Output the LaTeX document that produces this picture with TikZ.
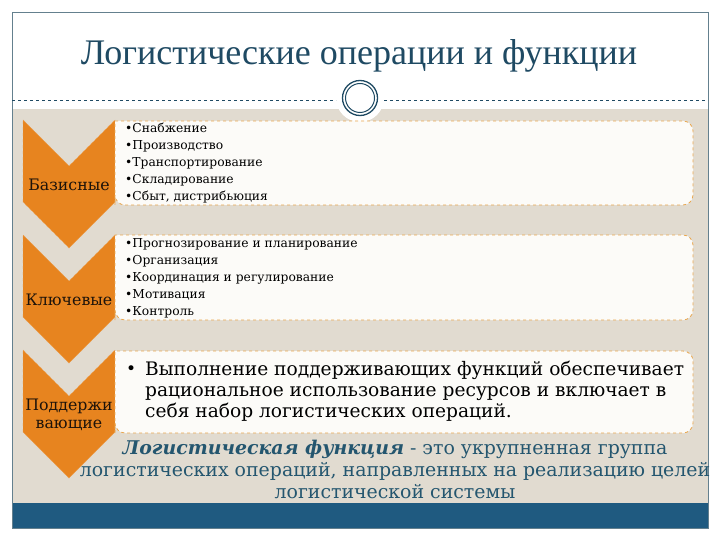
\documentclass[tikz,border=0pt]{standalone}
\usepackage{fontspec}
\setmainfont{DejaVu Serif}
\newfontfamily\titlefont{Liberation Serif}

\definecolor{beige}{RGB}{225,219,208}
\definecolor{chevorange}{RGB}{231,132,31}
\definecolor{boxfill}{RGB}{252,251,248}
\definecolor{boxline}{RGB}{233,166,78}
\definecolor{titleblue}{RGB}{31,74,99}
\definecolor{barblue}{RGB}{31,90,128}
\definecolor{framegray}{RGB}{100,128,142}
\definecolor{deftext}{RGB}{36,86,111}

\begin{document}
\begin{tikzpicture}[x=1pt,y=-1pt,
  chevron/.style={fill=chevorange,draw=chevorange!80!white,dashed,line width=0.4pt},
  textbox/.style={fill=boxfill,draw=boxline,dashed,line width=0.8pt},
  label/.style={text=black!85!brown,font=\fontsize{15.8}{18.5}\selectfont,align=center,inner sep=0pt},
  items/.style={anchor=west,align=left,font=\fontsize{12.3}{17}\selectfont,inner sep=0pt}]

\useasboundingbox (0,0) rectangle (720,540);

% Fond et cadre
\fill[beige] (12,109) rectangle (708,503);
\fill[barblue] (12,503) rectangle (708,528);
\fill[white] (360,98) circle (24);
\draw[framegray,line width=0.8pt] (12,12) rectangle (708,528);

% Titre
\node (title) at (359,56) {\titlefont\fontsize{36}{40}\selectfont\color{titleblue}Логистические операции и функции};

% Ligne pointillee et anneau
\coordinate (ringL) at (336,100);
\coordinate (ringR) at (384,100);
\draw[titleblue,dashed,line width=0.6pt] (12,100) -- (ringL);
\draw[titleblue,dashed,line width=0.6pt] (ringR) -- (708,100);
\draw[titleblue,line width=1.3pt] (360,98) circle (17.5);
\draw[titleblue,line width=1pt] (360,98) circle (14.5);

% Chevrons
\foreach \t in {120,235,350}
  \draw[chevron] (23,\t) -- (69,\t+46) -- (115,\t) -- (115,\t+82) -- (69,\t+128) -- (23,\t+82) -- cycle;

% Cadres de texte
\foreach \t/\b in {121/205,235/320,351/433}
  \draw[textbox] (115,\b) -- (115,\t) [rounded corners=10pt] -- (693,\t) -- (693,\b) -- (115,\b) [sharp corners] -- cycle;

\node[label] (basic) at (69,185) {Базисные};
\node[label] (key) at (69,300) {Ключевые};
\node[label] (support) at (69,415) {Поддержи\\вающие};

\node[items] (list1) at (125,163) {•Снабжение\\•Производство\\•Транспортирование\\•Складирование\\•Сбыт, дистрибьюция};
\node[items] (list2) at (125,278) {•Прогнозирование и планирование\\•Организация\\•Координация и регулирование\\•Мотивация\\•Контроль};

\node[anchor=west,inner sep=0pt] (dot3) at (126,370) {\fontsize{17}{21}\selectfont •};
\node[anchor=west,align=left,inner sep=0pt,font=\fontsize{18.6}{21}\selectfont] (list3) at (145,391)
  {Выполнение поддерживающих функций обеспечивает\\рациональное использование ресурсов и включает в\\себя набор логистических операций.};

% Definition
\node[align=center,text=deftext,inner sep=0pt,font=\fontsize{18.9}{22}\selectfont] (defn) at (395,469)
  {\textbf{\textit{Логистическая функция}} - это укрупненная группа\\логистических операций, направленных на реализацию целей\\логистической системы};

\end{tikzpicture}
\end{document}
